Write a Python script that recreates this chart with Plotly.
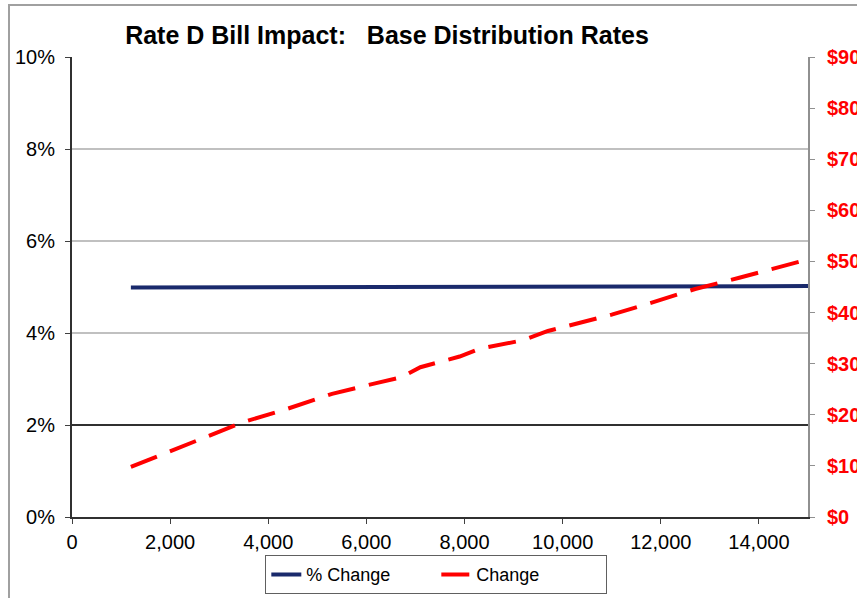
import plotly.graph_objects as go

# Monthly usage (kWh) and the bill impact at each level
usage_kwh = [1200, 3500, 4400, 5300, 6200, 6700, 7100, 7900, 8300, 9200, 9700,
             11000, 11800, 12700, 13600, 15000]
pct_change = [4.99, 4.995, 5.0, 5.0, 5.0, 5.0, 5.005, 5.01, 5.01, 5.01, 5.015,
              5.015, 5.02, 5.02, 5.02, 5.02]
dollar_change = [9.8, 18.6, 21.2, 24.1, 26.2, 27.3, 29.3, 31.4, 32.9, 34.6, 36.4,
                 39.6, 41.9, 44.6, 46.8, 50.4]

pct_ticks = [0, 2, 4, 6, 8, 10]
pct_labels = [f"{v}%" for v in pct_ticks]
dollar_ticks = [0, 10, 20, 30, 40, 50, 60, 70, 80, 90]
dollar_labels = [f"<b>${v}</b>" for v in dollar_ticks]
usage_ticks = [0, 2000, 4000, 6000, 8000, 10000, 12000, 14000]
usage_labels = [f"{v:,}" for v in usage_ticks]

FONT = "Liberation Sans, Arial, sans-serif"

fig = go.Figure()
fig.add_trace(go.Scatter(
    x=usage_kwh, y=pct_change, name="% Change", mode="lines",
    line=dict(color="#1a2a6c", width=4), yaxis="y",
))
fig.add_trace(go.Scatter(
    x=usage_kwh, y=dollar_change, name="Change", mode="lines",
    line=dict(color="#ff0000", width=4, dash="28px,14px"), yaxis="y2",
))

fig.update_layout(
    width=857, height=598,
    margin=dict(l=72, r=49, t=57, b=81, autoexpand=False),
    paper_bgcolor="white", plot_bgcolor="white",
    font=dict(family=FONT, size=18, color="black"),
    title=dict(
        text="<b>Rate D Bill Impact:   Base Distribution Rates</b>",
        x=387 / 857, xanchor="center", y=1 - 35 / 598, yanchor="middle",
        font=dict(family=FONT, size=25, color="black"),
    ),
    xaxis=dict(
        range=[0, 15000], tickvals=usage_ticks, ticktext=usage_labels,
        ticks="outside", ticklen=5, tickcolor="#404040",
        ticklabelstandoff=1, automargin=False,
        showline=True, linecolor="#303030", linewidth=2,
        showgrid=False, zeroline=False,
        tickfont=dict(family=FONT, size=20, color="black"),
    ),
    yaxis=dict(
        range=[0, 10], tickvals=pct_ticks, ticktext=pct_labels,
        ticks="outside", ticklen=5, tickcolor="#404040",
        ticklabelstandoff=6, automargin=False,
        showline=True, linecolor="#303030", linewidth=2,
        showgrid=True, gridcolor="#c0c0c0", gridwidth=2,
        zeroline=False, tickfont=dict(family=FONT, size=20, color="black"),
    ),
    yaxis2=dict(
        range=[0, 90], tickvals=dollar_ticks, ticktext=dollar_labels,
        overlaying="y", side="right",
        ticks="outside", ticklen=5, tickcolor="#909090",
        ticklabelstandoff=8, automargin=False,
        showline=True, linecolor="#909090", linewidth=2,
        showgrid=False, zeroline=False,
        tickfont=dict(family=FONT, size=20, color="#ff0000"),
    ),
    # axis carrying only the dark reference gridline at 2%
    yaxis3=dict(
        range=[0, 10], tickvals=[2], overlaying="y", side="left",
        showticklabels=False, ticks="", showline=False, automargin=False,
        showgrid=True, gridcolor="#303030", gridwidth=1.5, zeroline=False,
    ),
    legend=dict(
        orientation="h", x=0.495, xanchor="center", y=-0.083, yanchor="top",
        bordercolor="#606060", borderwidth=1, bgcolor="white",
        entrywidth=125, font=dict(family=FONT, size=18, color="black"),
    ),
    shapes=[
        # outer chart frame
        dict(type="rect", xref="paper", yref="paper",
             x0=-0.0856, x1=1.2, y0=-0.3, y1=1.113,
             line=dict(color="#a0a0a0", width=2), layer="below"),
    ],
)

# empty trace so the third axis is drawn
fig.add_trace(go.Scatter(x=[], y=[], yaxis="y3", showlegend=False, hoverinfo="skip"))

fig.write_html("out.html")
